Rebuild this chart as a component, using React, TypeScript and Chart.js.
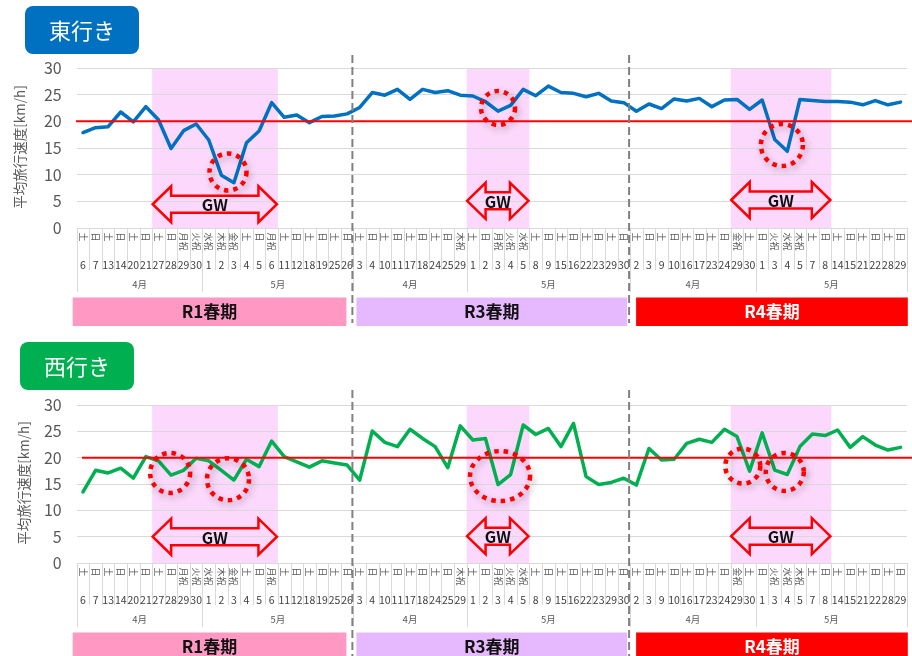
import React, { useEffect, useRef } from 'react';
import { Chart, registerables } from 'chart.js';

Chart.register(...registerables);

// ---------- DATA ----------
const dayNumbers = [
  '6', '7', '13', '14', '20', '21', '27', '28', '29', '30', '1', '2', '3', '4', '5', '6', '11', '12', '18', '19', '25', '26',
  '3', '4', '10', '11', '17', '18', '24', '25', '29', '1', '2', '3', '4', '5', '8', '9', '15', '16', '22', '23', '29', '30',
  '2', '3', '9', '10', '16', '17', '23', '24', '29', '30', '1', '3', '4', '5', '7', '8', '14', '15', '21', '22', '28', '29',
];
const dayOfWeek = [
  '土', '日', '土', '日', '土', '日', '土', '日', '月祝', '火祝', '水祝', '木祝', '金祝', '土', '日', '月祝', '土', '日', '土', '日', '土', '日',
  '土', '日', '土', '日', '土', '日', '土', '日', '木祝', '土', '日', '月祝', '火祝', '水祝', '土', '日', '土', '日', '土', '日', '土', '日',
  '土', '日', '土', '日', '土', '日', '土', '日', '金祝', '土', '日', '火祝', '水祝', '木祝', '土', '日', '土', '日', '土', '日', '土', '日',
];
const monthLabels = ['4月', '5月', '4月', '5月', '4月', '5月'];
const monthRanges = [[0, 9], [10, 21], [22, 30], [31, 43], [44, 53], [54, 65]];
const periodLabels = ['R1春期', 'R3春期', 'R4春期'];
const periodRanges = [[0, 21], [22, 43], [44, 65]];
const gwRanges = [[6, 15], [31, 35], [52, 59]];
const targetSpeed = 20;

const eastSpeed = [
  17.9, 18.8, 19.0, 21.75, 19.9, 22.75, 20.3, 14.9, 18.25, 19.5, 16.5, 9.9, 8.5, 16.0, 18.2, 23.5, 20.75, 21.2, 19.75, 20.9, 21.0, 21.4,
  22.6, 25.4, 24.9, 26.0, 24.1, 26.0, 25.4, 25.75, 24.9, 24.75, 23.7, 21.9, 23.0, 26.0, 24.8, 26.6, 25.4, 25.25, 24.6, 25.25, 23.8, 23.5,
  21.9, 23.25, 22.4, 24.2, 23.8, 24.3, 22.75, 24.0, 24.1, 22.25, 24.0, 16.6, 14.4, 24.1, 23.9, 23.7, 23.7, 23.6, 23.1, 23.9, 23.1, 23.6,
];
const westSpeed = [
  13.5, 17.6, 17.1, 18.0, 16.1, 20.2, 19.4, 16.7, 17.6, 19.9, 19.4, 17.6, 15.75, 19.7, 18.3, 23.15, 20.2, 19.2, 18.2, 19.4, 19.0, 18.6,
  15.75, 25.05, 22.9, 22.1, 25.4, 23.65, 22.1, 18.1, 26.05, 23.35, 23.65, 14.9, 16.8, 26.2, 24.4, 25.55, 22.1, 26.5, 16.4, 14.9, 15.3, 16.1,
  14.8, 21.75, 19.55, 19.7, 22.7, 23.5, 22.9, 25.4, 24.0, 17.45, 24.7, 17.65, 16.8, 22.1, 24.5, 24.2, 25.25, 21.95, 24.0, 22.4, 21.45, 21.95,
];
// highlighted spots (category index, speed)
const eastHighlightIdx = [11.53, 33.0, 55.57];
const eastHighlightVal = [10.5, 22.5, 15.56];
const westHighlightIdx = [6.93, 11.53, 33.16, 52.46, 55.8];
const westHighlightVal = [17.1, 15.9, 16.5, 18.4, 17.3];

// ---------- STYLE ----------
const FONT = "'Noto Sans CJK JP', 'Noto Sans', sans-serif";
const periodColors = ['#FF99C4', '#E6B9FF', '#FF0000'];
const periodTextColors = ['#111111', '#111111', '#FFFFFF'];
const periodInsets = [[-4, -7], [3, -3], [6, 1]];
const eastRadii = [[18.5, 18.5], [17, 17], [21, 21]];
const westRadii = [[20, 20], [21, 21], [30, 25], [17.5, 17.5], [19, 19]];
const eastArrowVal = [4.45, 5.1, 5.25];
const westArrowVal = [5, 5.1, 5.1];

type PanelCfg = {
  title: string;
  titleColor: string;
  titleBox: [number, number, number, number];
  h: number;
  plotTop: number;
  plotBottom: number;
  values: number[];
  color: string;
  redStart: number;
  yTitleX: number;
  dashBottom: number;
  hlIdx: number[];
  hlVal: number[];
  hlRadii: number[][];
  arrowVal: number[];
};

function decorPlugin(cfg: PanelCfg) {
  return {
    id: 'decor',
    beforeDraw(chart: any) {
      const { ctx, chartArea } = chart;
      const x = chart.scales.x;
      ctx.save();
      ctx.fillStyle = '#FCD9FC';
      gwRanges.forEach(([a, b]) => {
        const x0 = x.getPixelForValue(a - 0.5);
        const x1 = x.getPixelForValue(b + 0.5);
        ctx.fillRect(x0, chartArea.top, x1 - x0, chartArea.bottom - chartArea.top);
      });
      ctx.restore();
    },
    afterDraw(chart: any) {
      const { ctx, chartArea } = chart;
      const x = chart.scales.x;
      const y = chart.scales.y;
      const B = chartArea.bottom;
      ctx.save();

      // target line
      const yt = y.getPixelForValue(targetSpeed);
      ctx.strokeStyle = '#FF0000';
      ctx.lineWidth = 2;
      ctx.beginPath();
      ctx.moveTo(cfg.redStart, yt);
      ctx.lineTo(chart.width, yt);
      ctx.stroke();

      // category table lines
      const monthStarts = monthRanges.map((r) => r[0]);
      ctx.strokeStyle = '#D9D9D9';
      ctx.lineWidth = 1;
      for (let i = 0; i <= dayNumbers.length; i++) {
        const px = Math.round(x.getPixelForValue(i - 0.5)) + 0.5;
        const long = monthStarts.includes(i) || i === dayNumbers.length;
        ctx.beginPath();
        ctx.moveTo(px, B);
        ctx.lineTo(px, B + (long ? 64 : 42));
        ctx.stroke();
      }

      // weekday (vertical)
      ctx.fillStyle = '#595959';
      ctx.font = `9px ${FONT}`;
      ctx.textAlign = 'left';
      ctx.textBaseline = 'middle';
      dayOfWeek.forEach((d, i) => {
        const cx = x.getPixelForValue(i);
        ctx.save();
        ctx.translate(cx, B + 4.5);
        ctx.rotate(Math.PI / 2);
        ctx.fillText(d, 0, 0);
        ctx.restore();
      });

      // day numbers
      ctx.fillStyle = '#404040';
      ctx.font = `10.5px ${FONT}`;
      ctx.textAlign = 'center';
      dayNumbers.forEach((d, i) => {
        ctx.fillText(d, x.getPixelForValue(i), B + 37);
      });

      // months
      ctx.fillStyle = '#595959';
      ctx.font = `9.5px ${FONT}`;
      monthLabels.forEach((m, k) => {
        const [a, b] = monthRanges[k];
        const cx = (x.getPixelForValue(a - 0.5) + x.getPixelForValue(b + 0.5)) / 2;
        ctx.fillText(m, cx, B + 56);
      });

      // period bars
      periodLabels.forEach((p, k) => {
        const [a, b] = periodRanges[k];
        const x0 = x.getPixelForValue(a - 0.5) + periodInsets[k][0];
        const x1 = x.getPixelForValue(b + 0.5) + periodInsets[k][1];
        ctx.fillStyle = periodColors[k];
        ctx.fillRect(x0, B + 69.5, x1 - x0, 28.5);
        ctx.fillStyle = periodTextColors[k];
        ctx.font = `bold 17px ${FONT}`;
        ctx.fillText(p, (x0 + x1) / 2, B + 84);
      });

      // dashed separators
      ctx.strokeStyle = '#808080';
      ctx.lineWidth = 2;
      ctx.setLineDash([8, 4]);
      [21, 43].forEach((i) => {
        const px = x.getPixelForValue(i + 0.5) - 1;
        ctx.beginPath();
        ctx.moveTo(px, 55);
        ctx.lineTo(px, cfg.dashBottom);
        ctx.stroke();
      });
      ctx.setLineDash([]);

      // GW arrows
      const hl = 18.5, hh = 18, sh = 8.5;
      gwRanges.forEach(([a, b], k) => {
        const xl = x.getPixelForValue(a - 0.5) + 0.5;
        const xr = x.getPixelForValue(b + 0.5) - 1;
        const yc = y.getPixelForValue(cfg.arrowVal[k]);
        ctx.strokeStyle = '#FF0000';
        ctx.lineWidth = 2.5;
        ctx.lineJoin = 'miter';
        ctx.beginPath();
        ctx.moveTo(xl, yc);
        ctx.lineTo(xl + hl, yc - hh);
        ctx.lineTo(xl + hl, yc - sh);
        ctx.lineTo(xr - hl, yc - sh);
        ctx.lineTo(xr - hl, yc - hh);
        ctx.lineTo(xr, yc);
        ctx.lineTo(xr - hl, yc + hh);
        ctx.lineTo(xr - hl, yc + sh);
        ctx.lineTo(xl + hl, yc + sh);
        ctx.lineTo(xl + hl, yc + hh);
        ctx.closePath();
        ctx.stroke();
        ctx.fillStyle = '#111111';
        ctx.font = `bold 16px ${FONT}`;
        ctx.textAlign = 'center';
        ctx.textBaseline = 'middle';
        ctx.fillText('GW', (xl + xr) / 2, yc + 1);
      });

      // dotted highlight circles
      cfg.hlIdx.forEach((ix, k) => {
        const cx = x.getPixelForValue(ix);
        const cy = y.getPixelForValue(cfg.hlVal[k]);
        const [rx, ry] = cfg.hlRadii[k];
        ctx.save();
        ctx.shadowColor = 'rgba(0,0,0,0.35)';
        ctx.shadowBlur = 6;
        ctx.shadowOffsetX = 2;
        ctx.shadowOffsetY = 3;
        ctx.strokeStyle = '#FF0000';
        ctx.lineWidth = 4.5;
        ctx.setLineDash([4.5, 5]);
        ctx.beginPath();
        ctx.ellipse(cx, cy, rx, ry, 0, 0, Math.PI * 2);
        ctx.stroke();
        ctx.restore();
      });

      // title box
      const [tx, ty, tw, th] = cfg.titleBox;
      ctx.fillStyle = cfg.titleColor;
      ctx.beginPath();
      (ctx as any).roundRect(tx, ty, tw, th, 8);
      ctx.fill();
      ctx.fillStyle = '#FFFFFF';
      ctx.font = `22px ${FONT}`;
      ctx.textAlign = 'center';
      ctx.textBaseline = 'middle';
      ctx.fillText(cfg.title, tx + tw / 2, ty + th / 2 + 1);

      // y axis title
      ctx.save();
      ctx.translate(cfg.yTitleX, (chartArea.top + chartArea.bottom) / 2 - 1);
      ctx.rotate(-Math.PI / 2);
      ctx.fillStyle = '#595959';
      ctx.font = `13.5px ${FONT}`;
      ctx.textAlign = 'center';
      ctx.textBaseline = 'middle';
      ctx.fillText('平均旅行速度[km/h]', 0, 0);
      ctx.restore();

      ctx.restore();
    },
  };
}

function Panel({ cfg, top }: { cfg: PanelCfg; top: number }) {
  const ref = useRef<HTMLCanvasElement | null>(null);
  useEffect(() => {
    if (!ref.current) return;
    const chart = new Chart(ref.current, {
      type: 'line',
      data: {
        labels: dayNumbers.map((d, i) => `${i}`),
        datasets: [
          {
            data: cfg.values,
            borderColor: cfg.color,
            borderWidth: 3.5,
            pointRadius: 0,
            tension: 0,
            borderJoinStyle: 'round',
            borderCapStyle: 'round',
          },
        ],
      },
      options: {
        responsive: false,
        animation: false,
        devicePixelRatio: 1,
        layout: { padding: { top: cfg.plotTop, right: 912 - 906.8, left: 0, bottom: 0 } },
        plugins: { legend: { display: false }, tooltip: { enabled: false }, title: { display: false } },
        scales: {
          x: {
            type: 'category',
            offset: true,
            grid: { display: false },
            border: { display: false },
            ticks: { display: false },
            afterFit: (s: any) => {
              s.height = cfg.h - cfg.plotBottom;
            },
          },
          y: {
            min: 0,
            max: 30,
            ticks: { stepSize: 5, color: '#595959', font: { size: 16, family: FONT }, padding: 15 },
            grid: { color: '#D9D9D9', drawTicks: false, lineWidth: 1 },
            border: { display: false },
            afterFit: (s: any) => {
              s.width = 76.7;
            },
          },
        },
      } as any,
      plugins: [decorPlugin(cfg)],
    });
    return () => chart.destroy();
  }, [cfg]);
  return (
    <canvas
      ref={ref}
      width={912}
      height={cfg.h}
      style={{ position: 'absolute', left: 0, top, width: 912, height: cfg.h, display: 'block' }}
    />
  );
}

const eastCfg: PanelCfg = {
  title: '東行き',
  titleColor: '#0070C0',
  titleBox: [25, 6, 114, 48],
  h: 335,
  plotTop: 68,
  plotBottom: 228,
  values: eastSpeed,
  color: '#0070C0',
  redStart: 76,
  yTitleX: 19.5,
  dashBottom: 323,
  hlIdx: eastHighlightIdx,
  hlVal: eastHighlightVal,
  hlRadii: eastRadii,
  arrowVal: eastArrowVal,
};

const westCfg: PanelCfg = {
  title: '西行き',
  titleColor: '#00B050',
  titleBox: [20, 7, 114, 48],
  h: 321,
  plotTop: 70,
  plotBottom: 228,
  values: westSpeed,
  color: '#00B050',
  redStart: 82,
  yTitleX: 23.5,
  dashBottom: 321,
  hlIdx: westHighlightIdx,
  hlVal: westHighlightVal,
  hlRadii: westRadii,
  arrowVal: westArrowVal,
};

export default function App() {
  return (
    <div style={{ position: 'absolute', left: 0, top: 0, width: 912, height: 656, background: '#FFFFFF', overflow: 'hidden' }}>
      <Panel cfg={eastCfg} top={0} />
      <Panel cfg={westCfg} top={335} />
    </div>
  );
}
